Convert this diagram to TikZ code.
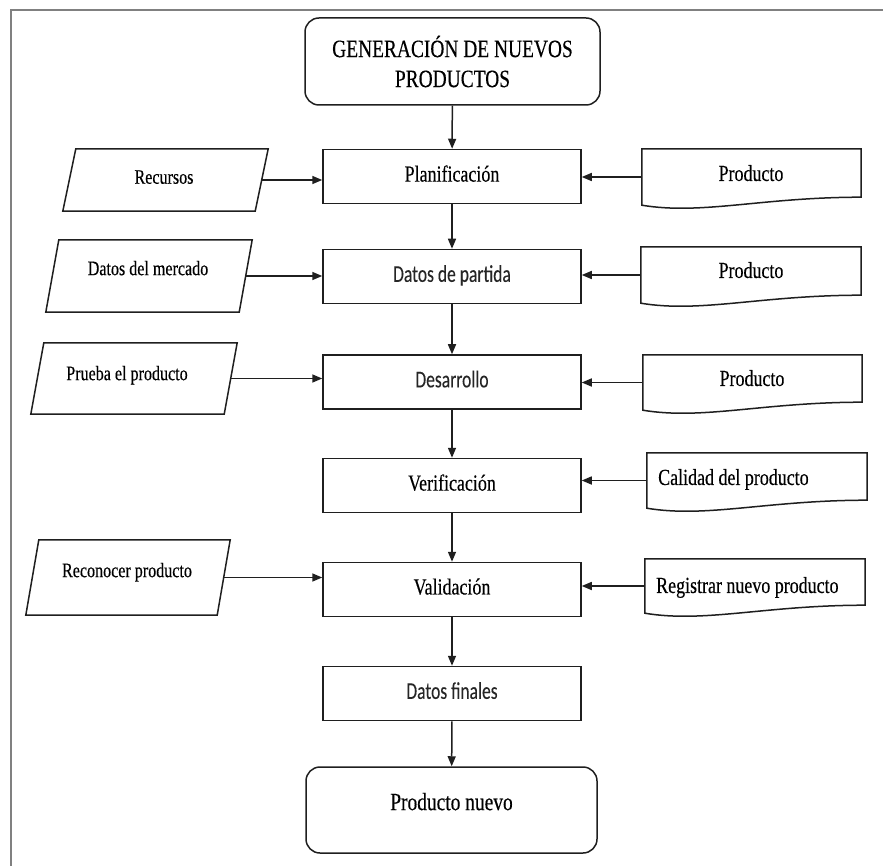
\documentclass[tikz,border=0pt]{standalone}
\usepackage{fontspec}
\usetikzlibrary{arrows.meta,calc}
\newfontfamily\serf[FakeStretch=0.78,FakeBold=0.3]{Liberation Serif}
\newfontfamily\sanf[FakeStretch=0.73,FakeBold=0.1]{Carlito}
\begin{document}
\begin{tikzpicture}[x=1pt,y=-1pt,
  ln/.style={draw=black!88, line width=1.5pt, line join=miter},
  proc/.style={ln, rectangle, minimum width=258pt, minimum height=54pt, inner sep=0pt, text depth=6pt},
  term/.style={ln, rectangle, rounded corners=14pt, inner sep=0pt},
  ghost/.style={rectangle, draw=none, inner sep=0pt},
  lab/.style={inner sep=0pt, text depth=0pt},
  arr/.style={draw=black!88, line width=1.5pt, -{Triangle[length=10pt,width=8pt]}},
  sml/.style={font=\serf\fontsize{20.6}{24}\selectfont},
  mid/.style={font=\serf\fontsize{23}{27}\selectfont},
  big/.style={font=\serf\fontsize{24.9}{30}\selectfont},
  cal/.style={font=\sanf\fontsize{24}{28}\selectfont, text=black!85},
]
\useasboundingbox (0,0) rectangle (883,866);
\fill[white] (0,0) rectangle (883,866);
\draw[black!50, line width=2pt] (11,866) -- (11,10) -- (883,10);

% central column
\node[term, minimum width=295pt, minimum height=87pt, big, align=center] (top) at (452.5,61.5) {GENERACIÓN DE NUEVOS\\PRODUCTOS};
\node[proc, mid] (plan) at (452,176.5) {Planificación};
\node[proc, cal] (part) at (452,276.5) {Datos de partida};
\node[proc, cal] (desa) at (452,382) {Desarrollo};
\node[proc, mid] (veri) at (452,485.5) {Verificación};
\node[proc, mid] (vali) at (452,589.5) {Validación};
\node[proc, cal] (fina) at (452,693.5) {Datos finales};
\node[term, minimum width=291pt, minimum height=86pt, big, text depth=17pt] (nuevo) at (451.5,810) {Producto nuevo};

% left inputs (parallelograms)
\node[ghost, minimum width=205pt, minimum height=62pt] (r1) at (165.5,180) {};
\node[ghost, minimum width=206pt, minimum height=72pt] (r2) at (149,276) {};
\node[ghost, minimum width=206pt, minimum height=71pt] (r3) at (134,378.5) {};
\node[ghost, minimum width=204pt, minimum height=75pt] (r4) at (128,577.5) {};
\foreach \p in {r1,r2,r3,r4}{
  \draw[ln] (\p.south west) -- ([xshift=13pt]\p.north west) -- (\p.north east) -- ([xshift=-13pt]\p.south east) -- cycle;
  \coordinate (\p o) at ([xshift=-6.5pt]\p.east);
}
\node[sml, lab] (r1t) at (164,177) {Recursos};
\node[sml, lab] (r2t) at (148,268) {Datos del mercado};
\node[sml, lab] (r3t) at (127,373) {Prueba el producto};
\node[sml, lab] (r4t) at (127,570) {Reconocer producto};

% right inputs (documents)
\node[ghost, minimum width=219pt, minimum height=56pt] (d1) at (751.5,177) {};
\node[ghost, minimum width=220pt, minimum height=56pt] (d2) at (751,275) {};
\node[ghost, minimum width=219pt, minimum height=55pt] (d3) at (752.5,382.5) {};
\node[ghost, minimum width=220pt, minimum height=55pt] (d4) at (757,480.5) {};
\node[ghost, minimum width=220pt, minimum height=54pt] (d5) at (755,586) {};
\foreach \d in {d1,d2,d3,d4,d5}{
  \draw[ln] (\d.south west) -- (\d.north west) -- (\d.north east) -- ([shift={(0,-8)}]\d.south east)
    .. controls ([shift={(120,-8)}]\d.south west) and ([shift={(60,10)}]\d.south west) .. (\d.south west) -- cycle;
}
\node[mid, lab] (d1t) at (751,173) {Producto};
\node[mid, lab] (d2t) at (751,270) {Producto};
\node[mid, lab] (d3t) at (752,378) {Producto};
\node[mid, lab, anchor=west] (d4t) at (658,477) {Calidad del producto};
\node[mid, lab, anchor=west] (d5t) at (656,585) {Registrar nuevo producto};

% vertical flow
\draw[arr] (top) -- (plan);
\draw[arr] (plan) -- (part);
\draw[arr] (part) -- (desa);
\draw[arr] (desa) -- (veri);
\draw[arr] (veri) -- (vali);
\draw[arr] (vali) -- (fina);
\draw[arr] (fina) -- (nuevo);

% left arrows
\draw[arr] (r1o) -- (r1o -| plan.west);
\draw[arr] (r2o) -- (r2o -| part.west);
\draw[arr] (r3o) -- (r3o -| desa.west);
\draw[arr] (r4o) -- (r4o -| vali.west);

% right arrows
\draw[arr] (d1.west) -- (d1.west -| plan.east);
\draw[arr] (d2.west) -- (d2.west -| part.east);
\draw[arr] (d3.west) -- (d3.west -| desa.east);
\draw[arr] (d4.west) -- (d4.west -| veri.east);
\draw[arr] (d5.west) -- (d5.west -| vali.east);
\end{tikzpicture}
\end{document}
